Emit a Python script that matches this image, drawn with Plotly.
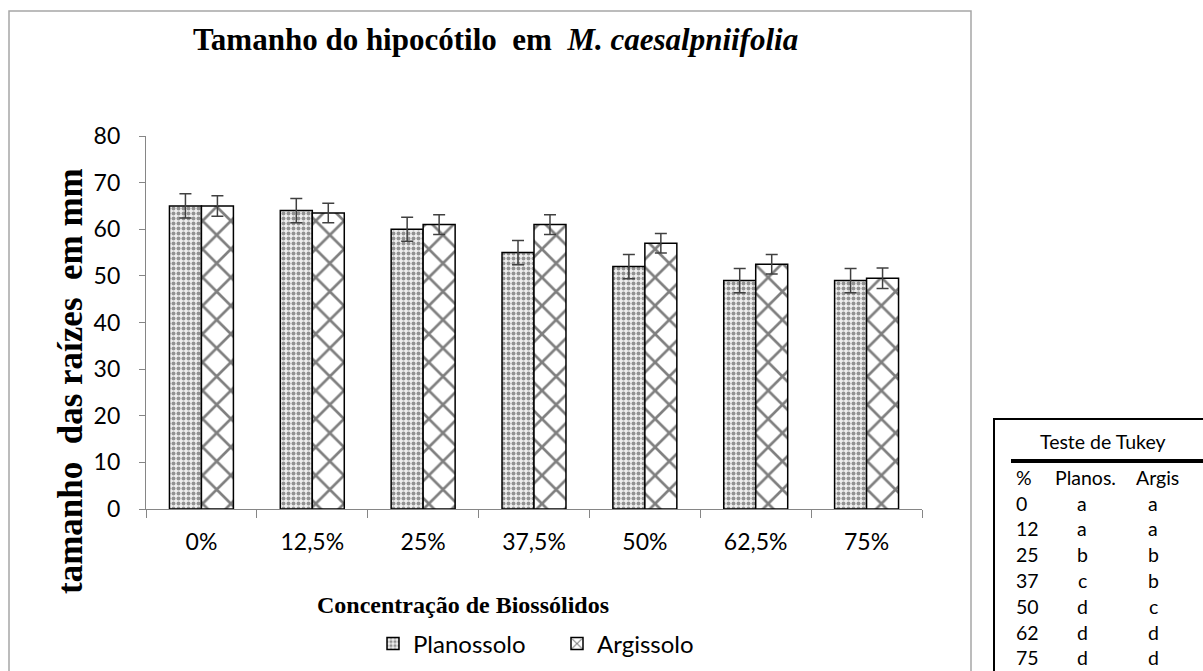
import plotly.graph_objects as go

categories = ["0%", "12,5%", "25%", "37,5%", "50%", "62,5%", "75%"]
planossolo = [65, 64, 60, 55, 52, 49, 49]
argissolo = [65, 63.5, 61, 61, 57, 52.5, 49.5]
planossolo_err = [2.6, 2.6, 2.6, 2.6, 2.6, 2.6, 2.6]
argissolo_err = [2.2, 2.1, 2.1, 2.1, 2.1, 2.1, 2.2]

tukey_pct = ["0", "12", "25", "37", "50", "62", "75"]
tukey_plan = ["a", "a", "b", "c", "d", "d", "d"]
tukey_arg = ["a", "a", "b", "b", "c", "d", "d"]

W, H = 1203, 671
L, R, T, B = 146, 922, 136, 509  # plot area in pixels


def px(x):
    return (x - L) / (R - L)


def py(y):
    return (B - y) / (B - T)


SANS = "Lato, Calibri, 'Open Sans', sans-serif"
SERIF = "'Liberation Serif', 'Times New Roman', serif"
NB = "\u00a0"

fig = go.Figure()
fig.add_trace(go.Bar(
    x=categories, y=planossolo, name="Planossolo",
    marker=dict(color="white", line=dict(color="black", width=1.5),
                pattern=dict(shape=".", fgcolor="#333333", bgcolor="#f0f0f0",
                             size=5, solidity=0.5)),
    error_y=dict(type="data", array=planossolo_err, color="#404040",
                 thickness=1.5, width=6)))
fig.add_trace(go.Bar(
    x=categories, y=argissolo, name="Argissolo",
    marker=dict(color="white", line=dict(color="black", width=1.5),
                pattern=dict(shape="x", fgcolor="black", bgcolor="white",
                             size=20, solidity=0.25)),
    error_y=dict(type="data", array=argissolo_err, color="#404040",
                 thickness=1.5, width=6)))

ann = []
ann.append(dict(
    text="<b>Tamanho do hipocótilo" + NB * 2 + "em" + NB * 2
         + "<i>M. caesalpniifolia</i></b>",
    x=px(495), y=py(39), font=dict(family=SERIF, size=31, color="black")))
ann.append(dict(
    text="<b>tamanho" + NB * 2 + "das raízes" + NB * 2 + "em mm</b>",
    textangle=-90,
    x=px(70), y=py(381), font=dict(family=SERIF, size=35, color="black")))
ann.append(dict(
    text="<b>Concentração de Biossólidos</b>",
    x=px(463), y=py(605), font=dict(family=SERIF, size=24, color="black")))

# Tukey table
tfont = dict(family=SANS, size=19.5, color="black")
ann.append(dict(text="Teste de Tukey", x=px(1103), y=py(441), font=tfont))
ann.append(dict(text="%", x=px(1014), y=py(477), xanchor="left", font=tfont))
ann.append(dict(text="Planos.", x=px(1085), y=py(477), font=tfont))
ann.append(dict(text="Argis", x=px(1157), y=py(477), font=tfont))
for i, (p, a, b) in enumerate(zip(tukey_pct, tukey_plan, tukey_arg)):
    yy = py(503 + i * 25.8)
    ann.append(dict(text=p, x=px(1014), y=yy, xanchor="left", font=tfont))
    ann.append(dict(text=a, x=px(1082), y=yy, font=tfont))
    ann.append(dict(text=b, x=px(1153), y=yy, font=tfont))

for a in ann:
    a.update(xref="paper", yref="paper", showarrow=False)
    a.setdefault("xanchor", "center")
    a.setdefault("yanchor", "middle")

shapes = [
    dict(type="rect", x0=px(9), x1=px(971), y0=py(11), y1=py(690),
         line=dict(color="#a6a6a6", width=1.5)),
    dict(type="rect", x0=px(994), x1=px(1220), y0=py(419), y1=py(690),
         line=dict(color="black", width=2)),
    dict(type="line", x0=px(1011), x1=px(1220), y0=py(461), y1=py(461),
         line=dict(color="black", width=4)),
]
for s in shapes:
    s.update(xref="paper", yref="paper")

fig.update_layout(
    width=W, height=H,
    margin=dict(l=L, r=W - R, t=T, b=H - B, pad=0, autoexpand=False),
    paper_bgcolor="white", plot_bgcolor="white",
    barmode="group", bargap=0.423, bargroupgap=0,
    font=dict(family=SANS, size=23, color="black"),
    showlegend=True,
    legend=dict(orientation="h", xref="container", yref="container",
                x=373 / W, y=1 - 644 / H,
                xanchor="left", yanchor="middle",
                font=dict(family=SANS, size=24),
                itemwidth=30, entrywidth=139, entrywidthmode="pixels",
                bgcolor="rgba(0,0,0,0)"),
    annotations=ann, shapes=shapes,
)
fig.update_xaxes(
    automargin=False,
    showline=True, linecolor="#868686", linewidth=1.3,
    ticks="outside", tickson="boundaries", ticklen=8, tickcolor="#868686",
    ticklabelstandoff=12,
    showgrid=False, tickfont=dict(family=SANS, size=23))
fig.update_yaxes(
    automargin=False,
    range=[0, 80], dtick=10, showline=True, linecolor="#868686",
    linewidth=1.3, ticks="outside", ticklen=6, tickcolor="#868686",
    ticklabelstandoff=14,
    showgrid=False, zeroline=False, tickfont=dict(family=SANS, size=23))

# drop the browser's default 8px body margin so the figure fills the window
fig.write_html("out.html", config={"displayModeBar": False},
               post_script="document.body.style.margin='0';"
                           "document.body.style.overflow='hidden';")
